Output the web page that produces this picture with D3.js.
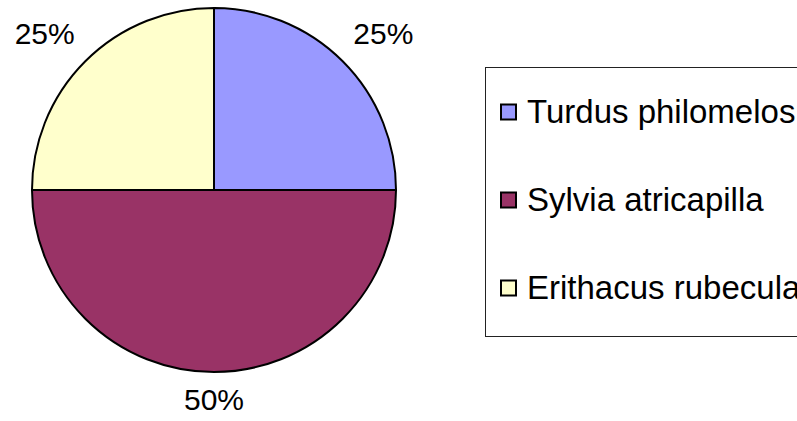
<!DOCTYPE html>
<html>
<head>
<meta charset="utf-8">
<script src="https://cdn.jsdelivr.net/npm/d3@7"></script>
<style>
	body { margin: 0; background: #fff; }
	svg { display: block; font-family: "Liberation Sans", Arial, sans-serif; }
</style>
</head>
<body>
<svg id="chart" width="797" height="421"></svg>
<script>

var species = ["Turdus philomelos", "Sylvia atricapilla", "Erithacus rubecula"];
var shares = [25, 50, 25];
var colors = ["#9999ff", "#993366", "#ffffcc"];

var svg = d3.select("#chart"),
	cx = 214,
	cy = 190,
	radius = 182;

var total = d3.sum(shares);

var pie = d3.pie()
	.sort(null)
	.value(function(d) { return d; });

var arc = d3.arc()
	.innerRadius(0)
	.outerRadius(radius);

var slices = pie(shares);

var plotarea = svg.append("g")
	.attr("transform", "translate(" + cx + "," + cy + ")");

plotarea.selectAll(".slice")
	.data(slices)
	.enter()
	.append("path")
	.attr("class", "slice")
	.attr("d", arc)
	.attr("fill", function(d, i) { return colors[i]; })
	.attr("stroke", "#000")
	.attr("stroke-width", 2)
	.attr("stroke-linejoin", "round");

// percent labels: text box sits just outside the edge point
var pad = 15;

function midAngle(d) { return (d.startAngle + d.endAngle) / 2; }

plotarea.selectAll(".pct")
	.data(slices)
	.enter()
	.append("text")
	.attr("class", "pct")
	.attr("font-size", "30px")
	.attr("fill", "#000")
	.attr("text-anchor", function(d) {
		var s = Math.sin(midAngle(d));
		return s > 0.3 ? "start" : (s < -0.3 ? "end" : "middle");
	})
	.attr("x", function(d) {
		return Math.sin(midAngle(d)) * (radius + pad);
	})
	.attr("y", function(d) {
		var c = Math.cos(midAngle(d)),
			py = -c * (radius + pad);
		if (c > 0.3) return py - 7;
		if (c < -0.3) return py + 23;
		return py + 11;
	})
	.text(function(d) { return Math.round(d.value / total * 100) + "%"; });

// legend
var legend = svg.append("g")
	.attr("transform", "translate(485,67)");

legend.append("rect")
	.attr("x", 0.5)
	.attr("y", 0.5)
	.attr("width", 340)
	.attr("height", 269)
	.attr("fill", "#fff")
	.attr("stroke", "#222")
	.attr("stroke-width", 1);

var rowY = d3.scalePoint()
	.domain(species)
	.range([45, 221]);

var rows = legend.selectAll(".row")
	.data(species)
	.enter()
	.append("g")
	.attr("class", "row")
	.attr("transform", function(d) { return "translate(0," + rowY(d) + ")"; });

rows.append("rect")
	.attr("x", 16)
	.attr("y", -7.5)
	.attr("width", 15)
	.attr("height", 15)
	.attr("fill", function(d, i) { return colors[i]; })
	.attr("stroke", "#000")
	.attr("stroke-width", 2);

rows.append("text")
	.attr("x", 42)
	.attr("y", 11)
	.attr("font-size", "33px")
	.attr("fill", "#000")
	.text(function(d) { return d; });

</script>
</body>
</html>
